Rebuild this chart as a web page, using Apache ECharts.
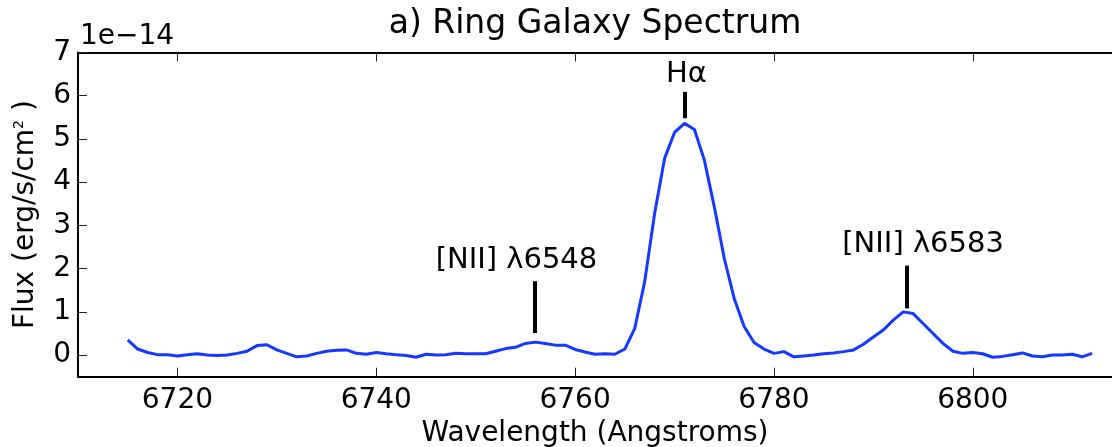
<!DOCTYPE html>
<html>
<head>
<meta charset="utf-8">
<title>a) Ring Galaxy Spectrum</title>
<script src="https://cdn.jsdelivr.net/npm/echarts@6/dist/echarts.min.js"></script>
<style>
  html, body { margin: 0; padding: 0; background: #ffffff; }
  #chart { width: 1112px; height: 447px; }
</style>
</head>
<body>
<div id="chart"></div>
<script>
// Wavelength grid of the extracted spectrum (Angstroms)
const wavelengths = [
  6715, 6716, 6717, 6718, 6719, 6720, 6721, 6722, 6723, 6724,
  6725, 6726, 6727, 6728, 6729, 6730, 6731, 6732, 6733, 6734,
  6735, 6736, 6737, 6738, 6739, 6740, 6741, 6742, 6743, 6744,
  6745, 6746, 6747, 6748, 6749, 6750, 6751, 6752, 6753, 6754,
  6755, 6756, 6757, 6758, 6759, 6760, 6761, 6762, 6763, 6764,
  6765, 6766, 6767, 6768, 6769, 6770, 6771, 6772, 6773, 6774,
  6775, 6776, 6777, 6778, 6779, 6780, 6781, 6782, 6783, 6784,
  6785, 6786, 6787, 6788, 6789, 6790, 6791, 6792, 6793, 6794,
  6795, 6796, 6797, 6798, 6799, 6800, 6801, 6802, 6803, 6804,
  6805, 6806, 6807, 6808, 6809, 6810, 6811, 6812
];

// Flux in units of 1e-14 erg/s/cm^2
const flux = [
  0.35, 0.14, 0.06, 0.01, 0.01, -0.02, 0.01, 0.03, 0.00, -0.01,
  0.00, 0.04, 0.09, 0.22, 0.24, 0.12, 0.04, -0.04, -0.02, 0.04,
  0.09, 0.11, 0.12, 0.04, 0.02, 0.06, 0.03, 0.01, -0.01, -0.05,
  0.02, 0.00, 0.01, 0.04, 0.03, 0.03, 0.03, 0.09, 0.15, 0.18,
  0.27, 0.30, 0.27, 0.23, 0.23, 0.13, 0.07, 0.02, 0.03, 0.02,
  0.14, 0.62, 1.70, 3.28, 4.55, 5.15, 5.36, 5.22, 4.51, 3.43,
  2.24, 1.31, 0.66, 0.29, 0.14, 0.04, 0.08, -0.04, -0.02, 0.00,
  0.03, 0.05, 0.08, 0.12, 0.25, 0.42, 0.58, 0.81, 1.00, 0.96,
  0.73, 0.50, 0.27, 0.09, 0.04, 0.06, 0.03, -0.05, -0.03, 0.01,
  0.05, -0.02, -0.04, 0.00, 0.00, 0.02, -0.04, 0.04
];

const fluxExponent = '1e\u221214';

// Tick positions
const xTicks = [6720, 6740, 6760, 6780, 6800];
const yTicks = [0, 1, 2, 3, 4, 5, 6, 7];

// Emission line identifications: marker bar (wavelength, low, high) and label anchor
const lineNames   = ['[NII] \u03bb6548', 'H\u03b1', '[NII] \u03bb6583'];
const lineWaves   = [6755.9, 6771.0, 6793.4];
const barLow      = [0.51, 5.48, 1.08];
const barHigh     = [1.71, 6.09, 2.07];
const labelWaves  = [6754.1, 6771.2, 6795.0];
const labelFlux   = [2.2, 6.5, 2.55];

const FONT = 'DejaVu Sans';
const BASE = 28;
const NOTE = 29;

const chart = echarts.init(document.getElementById('chart'), null, { renderer: 'canvas' });

const spectrum = wavelengths.map((w, i) => [w, flux[i]]);

const markerBars = lineWaves.map((w, i) => [
  { coord: [w, barLow[i]] },
  { coord: [w, barHigh[i]] }
]);

const lineLabels = lineNames.map((n, i) => ({ name: n, value: [labelWaves[i], labelFlux[i]] }));

const GRID = { left: 78, top: 52.5, bottom: 70.3, right: 0 };
const plotCenterX = GRID.left + (1112 - GRID.left - GRID.right) / 2;

const axisBase = {
  type: 'value',
  min: 6710,
  max: 6814,
  splitLine: { show: false },
  axisLine: { show: true, onZero: false, lineStyle: { color: '#000', width: 2 } },
  axisTick: { show: true, inside: true, length: 9, customValues: xTicks, lineStyle: { color: '#222', width: 1 } }
};

chart.setOption({
  animation: false,
  backgroundColor: '#ffffff',
  grid: Object.assign({ containLabel: false, outerBoundsMode: 'none' }, GRID),
  graphic: [
    {
      type: 'text', x: plotCenterX, y: 8,
      style: { text: 'a) Ring Galaxy Spectrum', font: '33px "' + FONT + '"', fill: '#000', align: 'center', verticalAlign: 'top' }
    },
    {
      type: 'text', left: 80, top: 23,
      style: { text: fluxExponent, font: BASE + 'px "' + FONT + '"', fill: '#000' }
    }
  ],
  xAxis: [
    Object.assign({}, axisBase, {
      position: 'bottom',
      name: 'Wavelength (Angstroms)',
      nameLocation: 'middle',
      nameGap: 36,
      nameTextStyle: { fontFamily: FONT, fontSize: BASE, color: '#000' },
      axisLabel: {
        show: true, customValues: xTicks, margin: 10,
        formatter: v => String(v),
        fontFamily: FONT, fontSize: BASE, color: '#000'
      }
    }),
    Object.assign({}, axisBase, {
      position: 'top',
      axisLabel: { show: false }
    })
  ],
  yAxis: {
    type: 'value',
    min: -0.5,
    max: 7,
    splitLine: { show: false },
    axisLine: { show: true, onZero: false, lineStyle: { color: '#000', width: 2 } },
    axisTick: { show: true, inside: true, length: 9, customValues: yTicks, lineStyle: { color: '#222', width: 1 } },
    axisLabel: {
      show: true, customValues: yTicks, margin: 7,
      formatter: v => String(v),
      fontFamily: FONT, fontSize: BASE, color: '#000'
    },
    name: 'Flux (erg/s/cm{sup|2} )',
    nameLocation: 'middle',
    nameGap: 38,
    nameRotate: 90,
    nameTextStyle: {
      fontFamily: FONT, fontSize: BASE, color: '#000',
      rich: { sup: { fontFamily: FONT, fontSize: 14, color: '#000', padding: [0, 0, 14, 0] } }
    }
  },
  series: [
    {
      type: 'line',
      xAxisIndex: 0,
      data: spectrum,
      showSymbol: false,
      smooth: false,
      lineStyle: { color: '#1438ff', width: 3 },
      itemStyle: { color: '#1438ff' },
      markLine: {
        silent: true,
        symbol: ['none', 'none'],
        label: { show: false },
        lineStyle: { color: '#000', width: 4, type: 'solid', opacity: 1 },
        data: markerBars
      },
      z: 3
    },
    {
      type: 'scatter',
      xAxisIndex: 0,
      data: lineLabels,
      symbolSize: 0,
      itemStyle: { color: '#000', opacity: 1 },
      label: {
        show: true,
        position: 'inside',
        formatter: p => p.name,
        fontFamily: FONT,
        fontSize: NOTE,
        color: '#000',
        opacity: 1
      },
      z: 4
    }
  ]
});
</script>
</body>
</html>
